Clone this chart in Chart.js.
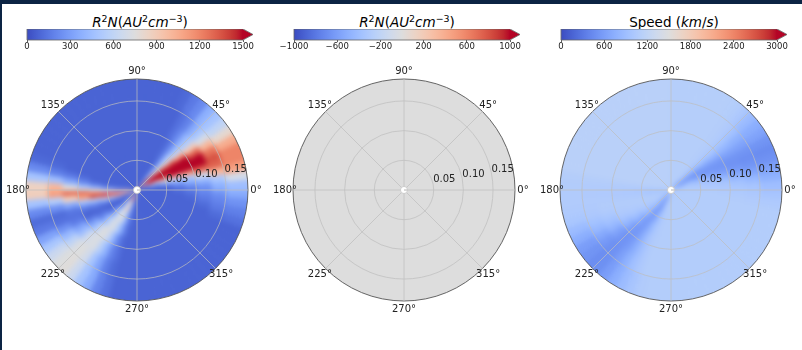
<!DOCTYPE html>
<html>
<head>
<meta charset="utf-8">
<script src="https://cdn.jsdelivr.net/npm/chart.js@4.4.1/dist/chart.umd.min.js"></script>
<style>
body { margin: 0; width: 802px; height: 350px; overflow: hidden; background: #0c2444; font-family: "DejaVu Sans", sans-serif; }
#sheet { position: absolute; left: 2px; top: 4px; width: 800px; height: 346px; background: #fff; }
canvas { position: absolute; }
.heat { filter: blur(2.6px); clip-path: circle(111px at 120px 120px); }
.title { position: absolute; top: 14px; width: 240px; text-align: center; font-size: 13.5px; line-height: 16px; color: #000; white-space: nowrap; }
.title sup { font-size: 70%; vertical-align: 0; position: relative; top: -0.5em; }
</style>
</head>
<body>
<div id="sheet"></div>
<div class="title" style="left:20px"><i>R</i><sup>2</sup><i>N</i>(<i>AU</i><sup>2</sup><i>cm</i><sup>−3</sup>)</div>
<div class="title" style="left:287px"><i>R</i><sup>2</sup><i>N</i>(<i>AU</i><sup>2</sup><i>cm</i><sup>−3</sup>)</div>
<div class="title" style="left:554px">Speed (<i>km</i>/<i>s</i>)</div>

<canvas id="cb0" width="260" height="24"></canvas>
<canvas id="cb1" width="260" height="24"></canvas>
<canvas id="cb2" width="260" height="24"></canvas>
<canvas id="heat0" class="heat" width="240" height="240"></canvas>
<canvas id="heat1" class="heat" width="240" height="240"></canvas>
<canvas id="heat2" class="heat" width="240" height="240"></canvas>
<canvas id="grid0" width="270" height="270"></canvas>
<canvas id="grid1" width="270" height="270"></canvas>
<canvas id="grid2" width="270" height="270"></canvas>

<script>
// radial bins (outer edge of each ring, AU) and axis ticks
const rMax = 0.187;
const holeR = 0.006;
const ringEdges = [0.02, 0.04, 0.06, 0.08, 0.10, 0.125, 0.15, 0.187];
const rTicks = [0.05, 0.10, 0.15];
// theta labels in the order the radial scale walks (clockwise from east)
const thetaLabels = ['0°', '315°', '270°', '225°', '180°', '135°', '90°', '45°'];

// R^2 N, 5 degree bins counter-clockwise from 0°, one array per ring (inner -> outer)
const densR1 = [80,80,80,190,400,800,1500,1500,800,
  400,80,80,80,80,80,80,80,80,
  80,80,80,80,80,80,80,80,80,
  80,80,80,80,80,80,80,190,600,
  900,1400,900,250,80,80,80,80,130,
  250,500,800,1500,1200,500,190,80,80,
  80,80,80,80,80,80,80,80,80,
  80,80,80,80,80,80,80,80,80];
const densR2 = [80,80,190,500,900,1500,1600,1500,900,
  500,190,80,80,80,80,80,80,80,
  80,80,80,80,80,80,80,80,80,
  80,80,80,80,80,80,80,130,350,
  800,1600,1000,400,130,80,80,80,130,
  350,500,800,900,550,250,130,80,80,
  80,80,80,80,80,80,80,80,80,
  80,80,80,80,80,80,80,80,80];
const densR3 = [80,130,400,700,1300,1600,1600,1400,800,
  450,190,80,80,80,80,80,80,80,
  80,80,80,80,80,80,80,80,80,
  80,80,80,80,80,80,80,130,400,
  900,1500,800,350,130,80,80,130,250,
  450,650,750,700,450,220,130,80,80,
  80,80,80,80,80,80,80,80,80,
  80,80,80,80,80,80,80,80,80];
const densR4 = [130,250,450,900,1500,1600,1600,1300,700,
  450,200,100,80,80,80,80,80,80,
  80,80,80,80,80,80,80,80,80,
  80,80,80,80,80,80,80,190,500,
  1100,1400,600,250,130,80,130,220,380,
  550,700,720,550,380,190,100,80,80,
  80,80,80,80,80,80,80,80,80,
  80,80,80,80,80,80,80,80,100];
const densR5 = [190,350,500,1100,1600,1600,1500,1100,600,
  400,200,100,80,80,80,80,80,80,
  80,80,80,80,80,80,80,80,80,
  80,80,80,80,80,80,130,250,600,
  1250,1100,500,220,100,80,190,350,500,
  700,750,650,450,250,130,80,80,80,
  80,80,80,80,80,80,80,80,80,
  80,80,80,80,80,80,80,100,130];
const densR6 = [250,400,700,1300,1500,1500,1300,900,550,
  400,220,130,80,80,80,80,80,80,
  80,80,80,80,80,80,80,80,80,
  80,80,80,80,80,80,160,350,750,
  1250,850,350,150,130,170,320,450,650,
  720,720,550,380,200,130,80,80,80,
  80,80,80,80,80,80,80,80,80,
  80,80,80,80,80,80,110,160,200];
const densR7 = [380,500,1000,1300,1350,1250,1000,700,500,
  350,190,130,80,80,80,80,80,80,
  80,80,80,80,80,80,80,80,80,
  80,80,80,80,80,100,180,450,1000,
  1100,550,250,110,130,250,420,580,720,
  750,680,480,330,180,110,80,80,80,
  80,80,80,80,80,80,80,80,80,
  80,80,80,80,80,110,160,200,250];
const densR8 = [450,700,1100,1200,1200,1050,800,600,480,
  380,220,160,100,80,80,80,80,80,
  80,80,80,80,80,80,80,80,80,
  80,80,80,80,80,100,220,480,850,
  880,480,220,110,160,320,500,650,740,
  760,650,480,360,200,130,80,80,80,
  80,80,80,80,80,80,80,80,80,
  80,80,80,80,80,130,180,250,350];

// difference panel: flat zero everywhere, 45 degree bins
const diffRing = [0, 0, 0, 0, 0, 0, 0, 0];

// speed (km/s), same bins as the density
const spdR1 = [1050,1000,950,900,850,750,450,500,800,
  1000,1080,1100,1100,1100,1100,1100,1100,1100,
  1130,1130,1130,1130,1130,1130,1130,1130,1130,
  1130,1130,1130,1130,1130,1130,1130,1050,950,
  900,950,1050,1080,1080,1080,1050,1000,950,
  880,750,480,520,820,1000,1080,1080,1080,
  1080,1080,1080,1080,1080,1080,1080,1080,1080,
  1080,1080,1080,1080,1080,1080,1080,1080,1080];
const spdR2 = [1060,1040,1000,950,860,620,500,640,900,
  1050,1090,1100,1100,1100,1100,1100,1100,1100,
  1130,1130,1130,1130,1130,1130,1130,1130,1130,
  1130,1130,1130,1130,1130,1130,1130,1080,1000,
  950,1000,1060,1080,1080,1080,1050,1000,940,
  820,640,540,660,900,1040,1080,1080,1080,
  1080,1080,1080,1080,1080,1080,1080,1080,1080,
  1080,1080,1080,1080,1080,1080,1080,1080,1080];
const spdR3 = [1050,1030,980,880,700,540,520,700,920,
  1050,1090,1100,1100,1100,1100,1100,1100,1100,
  1130,1130,1130,1130,1130,1130,1130,1130,1130,
  1130,1130,1130,1130,1130,1130,1130,1090,1030,
  1000,1030,1070,1080,1080,1060,1020,960,880,
  720,580,600,780,960,1040,1080,1080,1080,
  1080,1080,1080,1080,1080,1080,1080,1080,1080,
  1080,1080,1080,1080,1080,1080,1080,1080,1080];
const spdR4 = [1040,1010,920,740,580,520,580,760,950,
  1060,1090,1100,1100,1100,1100,1100,1100,1100,
  1130,1130,1130,1130,1130,1130,1130,1130,1130,
  1130,1130,1130,1130,1130,1130,1130,1090,1040,
  1020,1040,1070,1080,1060,1040,980,880,740,
  600,560,680,860,1000,1060,1080,1080,1080,
  1080,1080,1080,1080,1080,1080,1080,1080,1080,
  1080,1080,1080,1080,1080,1080,1080,1080,1080];
const spdR5 = [1020,980,820,640,540,520,600,800,980,
  1060,1090,1100,1100,1100,1100,1100,1100,1100,
  1130,1130,1130,1130,1130,1130,1130,1130,1130,
  1130,1130,1130,1130,1130,1130,1130,1090,1050,
  1030,1050,1070,1070,1050,1010,920,780,620,
  540,560,720,900,1020,1070,1080,1080,1080,
  1080,1080,1080,1080,1080,1080,1080,1080,1080,
  1080,1080,1080,1080,1080,1080,1080,1080,1060];
const spdR6 = [1000,920,720,560,500,520,640,800,950,
  1060,1090,1100,1100,1100,1100,1100,1100,1100,
  1130,1130,1130,1130,1130,1130,1130,1130,1130,
  1130,1130,1130,1130,1130,1130,1130,1090,1060,
  1040,1060,1070,1060,1000,920,800,640,530,
  510,580,730,900,1020,1080,1080,1080,1080,
  1080,1080,1080,1080,1080,1080,1080,1080,1080,
  1080,1080,1080,1080,1080,1080,1080,1070,1040];
const spdR7 = [980,840,650,520,480,520,640,770,930,
  1050,1090,1100,1100,1100,1100,1100,1100,1100,
  1130,1130,1130,1130,1130,1130,1130,1130,1130,
  1130,1130,1130,1130,1130,1130,1130,1090,1060,
  1050,1060,1050,1020,950,840,690,560,490,
  500,610,760,920,1020,1080,1080,1080,1080,
  1080,1080,1080,1080,1080,1080,1080,1080,1080,
  1080,1080,1080,1080,1080,1080,1080,1060,1020];
const spdR8 = [900,760,620,500,460,520,650,740,880,
  1020,1080,1100,1100,1100,1100,1100,1100,1100,
  1130,1130,1130,1130,1130,1130,1130,1130,1130,
  1130,1130,1130,1130,1130,1130,1130,1090,1070,
  1060,1060,1040,1000,880,740,600,520,470,
  490,600,740,880,980,1060,1080,1080,1080,
  1080,1080,1080,1080,1080,1080,1080,1080,1080,
  1080,1080,1080,1080,1080,1080,1080,1040,980];

// colour bar ranges
const cbarMin = [0, -1000, 0];
const cbarMax = [1500, 1000, 3000];
const cbarStep = [300, 400, 600];

// matplotlib coolwarm
const COOLWARM = [[59,76,192],[68,90,204],[77,104,215],[87,117,225],[98,130,234],[108,142,241],
  [119,154,247],[130,165,251],[141,176,254],[152,185,255],[163,194,255],[174,201,253],
  [184,208,249],[194,213,244],[204,217,238],[213,219,230],[221,221,221],[229,216,209],
  [236,211,197],[241,204,185],[245,196,173],[247,187,160],[247,177,148],[247,166,135],
  [244,154,123],[241,141,111],[236,127,99],[229,112,88],[222,96,77],[213,80,66],
  [203,62,56],[192,40,47],[180,4,38]];
const OVER = 'rgb(180,4,38)';

function cmap(t) {
  if (t > 1) return OVER;
  t = Math.max(0, t);
  const n = COOLWARM.length - 1;
  const i = Math.min(Math.floor(t * n), n - 1), f = t * n - i;
  const a = COOLWARM[i], b = COOLWARM[i + 1];
  return 'rgb(' + [0, 1, 2].map(k => Math.round(a[k] + (b[k] - a[k]) * f)).join(',') + ')';
}

Chart.defaults.font.family = '"DejaVu Sans", sans-serif';
Chart.defaults.color = '#222';

const panels = [
  { cx: 137, rings: [densR1, densR2, densR3, densR4, densR5, densR6, densR7, densR8], edges: ringEdges },
  { cx: 404, rings: [diffRing], edges: [rMax] },
  { cx: 671, rings: [spdR1, spdR2, spdR3, spdR4, spdR5, spdR6, spdR7, spdR8], edges: ringEdges }
];

const fmt = v => v < 0 ? '\u2212' + Math.abs(v) : String(v);

// outline + "extend max" arrow of a colour bar
const cbarOutline = {
  id: 'cbarOutline',
  afterDatasetsDraw(chart) {
    const a = chart.chartArea, ctx = chart.ctx;
    const mid = (a.top + a.bottom) / 2, tip = a.right + 10;
    ctx.save();
    ctx.fillStyle = OVER;
    ctx.beginPath();
    ctx.moveTo(a.right - 0.5, a.top);
    ctx.lineTo(tip, mid);
    ctx.lineTo(a.right - 0.5, a.bottom);
    ctx.closePath();
    ctx.fill();
    ctx.strokeStyle = '#666';
    ctx.lineWidth = 0.8;
    ctx.beginPath();
    ctx.moveTo(a.left, a.top);
    ctx.lineTo(a.right, a.top);
    ctx.lineTo(tip, mid);
    ctx.lineTo(a.right, a.bottom);
    ctx.lineTo(a.left, a.bottom);
    ctx.closePath();
    ctx.stroke();
    ctx.restore();
  }
};

// theta labels and radial tick labels, placed with the radial scale
const polarLabels = {
  id: 'polarLabels',
  afterDraw(chart) {
    const s = chart.scales.r, ctx = chart.ctx;
    ctx.save();
    ctx.fillStyle = '#222';
    ctx.font = '10px "DejaVu Sans"';
    ctx.textAlign = 'center';
    ctx.textBaseline = 'middle';
    chart.data.labels.forEach((lab, i) => {
      const p = s.getPointPosition(i, s.drawingArea + 8);
      ctx.fillText(lab, p.x, p.y);
    });
    ctx.textAlign = 'left';
    rTicks.forEach(v => {
      const d = s.getDistanceFromCenterForValue(v);
      ctx.fillText(v.toFixed(2), s.xCenter + d * 0.983, s.yCenter - d * 0.18 - 5);
    });
    ctx.restore();
  }
};

panels.forEach((p, n) => {
  const lo = cbarMin[n], hi = cbarMax[n];

  // colour bar
  const cb = document.getElementById('cb' + n);
  cb.style.left = (p.cx - 130) + 'px';
  cb.style.top = '29px';
  new Chart(cb, {
    type: 'bar',
    data: {
      labels: [''],
      datasets: [{
        data: [[lo, hi]],
        borderWidth: 0,
        barPercentage: 1,
        categoryPercentage: 1,
        backgroundColor: c => {
          const a = c.chart.chartArea;
          if (!a) return null;
          const g = c.chart.ctx.createLinearGradient(a.left, 0, a.right, 0);
          COOLWARM.forEach((col, i) => g.addColorStop(i / (COOLWARM.length - 1), 'rgb(' + col.join(',') + ')'));
          return g;
        }
      }]
    },
    options: {
      indexAxis: 'y',
      responsive: false,
      animation: false,
      events: [],
      layout: { padding: { left: 20, right: 24, top: 0, bottom: 2 } },
      plugins: { legend: { display: false }, tooltip: { enabled: false } },
      scales: {
        x: {
          min: lo, max: hi,
          ticks: { stepSize: cbarStep[n], font: { size: 8.5 }, color: '#222', padding: 0, maxRotation: 0, callback: v => fmt(v) },
          grid: { drawOnChartArea: false, tickLength: 2, color: '#333', lineWidth: 0.8 },
          border: { display: false }
        },
        y: { display: false }
      }
    },
    plugins: [cbarOutline]
  });

  // heat map: one polar-area dataset per ring, inner ring first so it paints on top.
  // the outermost ring is painted a little past the rim so the blur does not fade
  // the edge; the circular clip cuts it back to rMax.
  const heat = document.getElementById('heat' + n);
  heat.style.left = (p.cx - 120) + 'px';
  heat.style.top = '70px';
  const datasets = p.rings.map((vals, k) => {
    const colors = vals.map(v => cmap((v - lo) / (hi - lo))).reverse();
    const edge = k === p.rings.length - 1 ? p.edges[k] * 1.08 : p.edges[k];
    return {
      data: vals.map(() => edge),
      backgroundColor: colors,
      borderColor: colors,
      borderWidth: 1
    };
  });
  new Chart(heat, {
    type: 'polarArea',
    data: { labels: thetaLabels, datasets: datasets },
    options: {
      responsive: false,
      animation: false,
      events: [],
      layout: { padding: 9 },
      plugins: { legend: { display: false }, tooltip: { enabled: false } },
      scales: { r: { display: false, min: 0, max: rMax, startAngle: 90 } }
    }
  });

  // grid, spine, labels and the empty centre
  const grid = document.getElementById('grid' + n);
  grid.style.left = (p.cx - 135) + 'px';
  grid.style.top = '55px';
  const last = rTicks.length + 1;
  new Chart(grid, {
    type: 'polarArea',
    data: {
      labels: thetaLabels,
      datasets: [{ data: [holeR], backgroundColor: '#fff', borderColor: '#c4c4c4', borderWidth: 0.8 }]
    },
    options: {
      responsive: false,
      animation: false,
      events: [],
      layout: { padding: 24 },
      plugins: { legend: { display: false }, tooltip: { enabled: false } },
      scales: {
        r: {
          min: 0, max: rMax, startAngle: 90,
          afterBuildTicks: s => { s.ticks = [0].concat(rTicks, [rMax]).map(v => ({ value: v })); },
          ticks: { display: false },
          pointLabels: { display: false },
          grid: {
            circular: true,
            color: c => c.index === last ? '#555' : 'rgba(190,190,190,0.9)',
            lineWidth: c => c.index === last ? 0.9 : 0.8
          },
          angleLines: { display: true, color: 'rgba(190,190,190,0.9)', lineWidth: 0.8 }
        }
      }
    },
    plugins: [polarLabels]
  });
});
</script>
</body>
</html>
